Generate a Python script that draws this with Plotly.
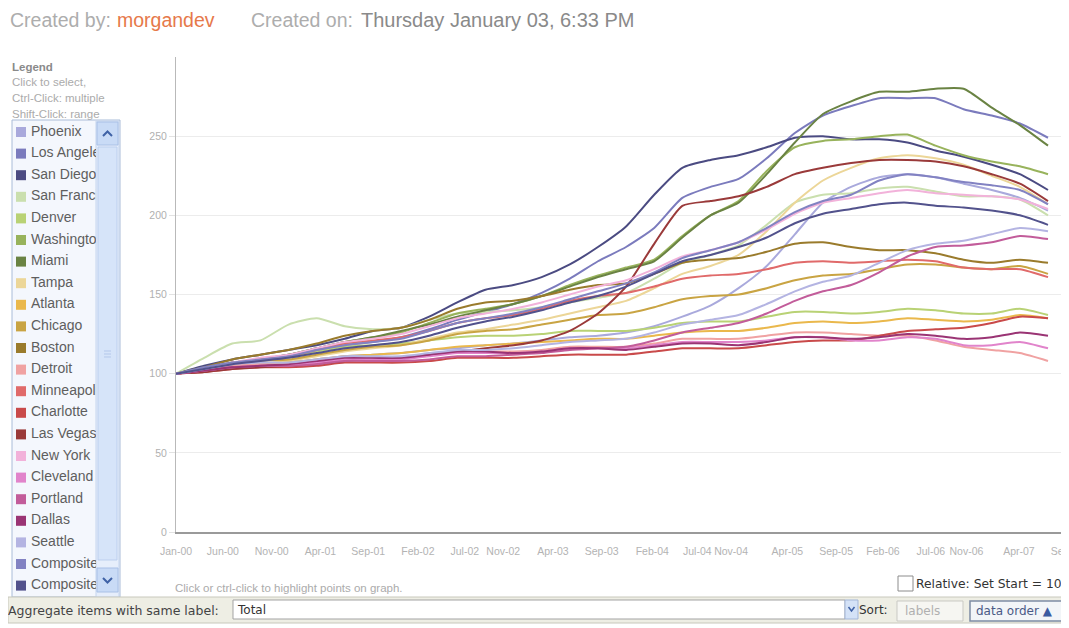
import plotly.graph_objects as go

W, H = 1069, 628

# ---------------- data (Case-Shiller style index, Jan-00 = 100), quarterly ----------------
periods = ["Jan-00", "Apr-00", "Jul-00", "Oct-00", "Jan-01", "Apr-01", "Jul-01", "Oct-01",
           "Jan-02", "Apr-02", "Jul-02", "Oct-02", "Jan-03", "Apr-03", "Jul-03", "Oct-03",
           "Jan-04", "Apr-04", "Jul-04", "Oct-04", "Jan-05", "Apr-05", "Jul-05", "Oct-05",
           "Jan-06", "Apr-06", "Jul-06", "Oct-06", "Jan-07", "Apr-07", "Jul-07", "Oct-07"]

phoenix = [100, 102, 104, 106, 107, 109, 111, 112, 113, 115, 116, 118, 119, 121, 123, 124,
           126, 130, 136, 143, 154, 168, 188, 208, 218, 224, 226, 224, 220, 216, 211, 203]
los_angeles = [100, 103, 106, 109, 112, 115, 118, 120, 123, 128, 134, 139, 144, 151, 160, 171,
               180, 192, 211, 218, 223, 236, 252, 263, 269, 274, 274, 274, 267, 263, 258, 249]
san_diego = [100, 105, 109, 112, 115, 118, 122, 127, 129, 136, 145, 153, 156, 161, 169, 180,
             193, 213, 230, 235, 238, 243, 249, 250, 248, 248, 246, 241, 237, 232, 226, 216]
san_francisco = [100, 110, 119, 121, 131, 135, 130, 128, 129, 134, 138, 139, 140, 142, 145, 148,
                 151, 160, 170, 175, 181, 194, 208, 213, 214, 217, 218, 215, 212, 212, 210, 200]
denver = [100, 103, 107, 109, 111, 114, 117, 118, 119, 121, 123, 124, 124, 125, 127, 127,
          127, 129, 132, 133, 133, 136, 139, 139, 138, 139, 141, 140, 138, 138, 141, 137]
washington = [100, 103, 107, 109, 112, 116, 120, 123, 126, 132, 138, 141, 144, 149, 156, 162,
              167, 172, 187, 200, 209, 228, 243, 247, 248, 250, 251, 244, 238, 234, 231, 226]
miami = [100, 103, 106, 109, 112, 116, 120, 123, 127, 131, 136, 140, 144, 149, 155, 161,
         166, 171, 186, 200, 208, 226, 246, 264, 272, 278, 278, 280, 280, 268, 257, 244]
tampa = [100, 102, 104, 106, 108, 111, 114, 116, 118, 122, 126, 128, 131, 134, 138, 142,
         146, 154, 163, 168, 175, 190, 208, 222, 230, 236, 238, 236, 232, 225, 218, 207]
atlanta = [100, 102, 104, 106, 107, 109, 111, 112, 113, 115, 117, 118, 119, 120, 121, 122,
           122, 124, 126, 127, 127, 129, 132, 133, 132, 133, 135, 134, 133, 134, 137, 135]
chicago = [100, 103, 106, 108, 109, 112, 115, 117, 118, 121, 125, 127, 128, 131, 134, 137,
           138, 142, 147, 149, 150, 154, 159, 162, 163, 166, 169, 169, 167, 166, 168, 163]
boston = [100, 104, 109, 112, 115, 119, 124, 127, 129, 134, 141, 145, 146, 149, 153, 156,
          157, 163, 170, 172, 173, 177, 182, 183, 180, 178, 178, 176, 172, 170, 172, 170]
detroit = [100, 102, 105, 106, 106, 108, 110, 110, 110, 112, 114, 114, 114, 115, 117, 117,
           117, 119, 122, 122, 122, 124, 126, 126, 125, 124, 124, 121, 117, 115, 113, 108]
minneapolis = [100, 103, 107, 109, 111, 115, 119, 121, 123, 127, 132, 135, 137, 141, 146, 149,
               151, 155, 160, 162, 163, 166, 170, 171, 170, 171, 172, 171, 167, 166, 166, 161]
charlotte = [100, 101, 103, 104, 104, 105, 107, 107, 107, 108, 110, 110, 110, 111, 112, 112,
             112, 114, 116, 116, 116, 118, 120, 121, 121, 124, 127, 128, 129, 132, 136, 135]
las_vegas = [100, 101, 103, 104, 105, 106, 108, 109, 110, 112, 114, 116, 118, 121, 127, 138,
             155, 182, 206, 209, 212, 218, 226, 230, 233, 235, 235, 234, 231, 226, 220, 209]
new_york = [100, 103, 107, 110, 112, 116, 120, 122, 125, 130, 135, 138, 141, 145, 150, 155,
            159, 166, 174, 178, 183, 191, 201, 208, 211, 214, 216, 214, 213, 212, 210, 204]
cleveland = [100, 102, 104, 105, 105, 107, 109, 109, 109, 111, 113, 113, 113, 114, 116, 116,
             116, 118, 120, 120, 120, 121, 123, 123, 121, 121, 123, 122, 118, 118, 120, 116]
portland = [100, 102, 104, 105, 105, 106, 108, 108, 108, 109, 111, 111, 112, 113, 115, 116,
            117, 121, 126, 129, 132, 138, 146, 152, 156, 164, 174, 180, 181, 183, 187, 185]
dallas = [100, 102, 104, 105, 106, 108, 110, 110, 110, 112, 114, 114, 113, 114, 116, 116,
          115, 117, 119, 119, 118, 120, 123, 123, 122, 123, 125, 124, 122, 123, 126, 124]
seattle = [100, 103, 106, 107, 107, 109, 111, 111, 111, 113, 115, 115, 116, 118, 120, 121,
           122, 126, 131, 134, 137, 144, 152, 158, 162, 170, 178, 182, 184, 188, 192, 190]
composite_10 = [100, 104, 107, 109, 111, 115, 118, 120, 122, 127, 132, 135, 138, 142, 147, 152,
                157, 164, 173, 178, 183, 192, 202, 209, 213, 222, 226, 224, 221, 219, 216, 207]
composite_20 = [100, 103, 106, 108, 110, 113, 116, 118, 120, 124, 129, 133, 136, 140, 145, 149,
                155, 163, 171, 175, 180, 186, 195, 201, 204, 207, 208, 206, 205, 203, 200, 194]

series_names = ["Phoenix", "Los Angeles", "San Diego", "San Francisco", "Denver", "Washington",
                "Miami", "Tampa", "Atlanta", "Chicago", "Boston", "Detroit", "Minneapolis",
                "Charlotte", "Las Vegas", "New York", "Cleveland", "Portland", "Dallas",
                "Seattle", "Composite-10", "Composite-20"]
series_values = [phoenix, los_angeles, san_diego, san_francisco, denver, washington, miami,
                 tampa, atlanta, chicago, boston, detroit, minneapolis, charlotte, las_vegas,
                 new_york, cleveland, portland, dallas, seattle, composite_10, composite_20]

tick_labels = ["Jan-00", "Jun-00", "Nov-00", "Apr-01", "Sep-01", "Feb-02", "Jul-02", "Nov-02",
               "Apr-03", "Sep-03", "Feb-04", "Jul-04", "Nov-04", "Apr-05", "Sep-05", "Feb-06",
               "Jul-06", "Nov-06", "Apr-07", "Sep-07"]
y_ticks = [0, 50, 100, 150, 200, 250]

# ---------------- styles / layout constants ----------------
colors = ["#a9a9dc", "#7b7bbd", "#4b4b82", "#cadfae", "#b9d275", "#98b35c", "#6a8343",
          "#ecd698", "#eab84c", "#c9a443", "#9a7b2c", "#f0a2a2", "#e06a6a", "#c94a4a",
          "#9a3a3a", "#f2b2da", "#e184cb", "#c25c9a", "#9a3474", "#b4b4e2", "#8282c2",
          "#52528c"]
tick_pos = [0, 5, 10.2, 15.4, 20.5, 25.8, 30.8, 34.9, 40.2, 45.4, 50.8, 55.6, 59.2, 65.2,
            70.4, 75.4, 80.5, 84.3, 89.9, 95.1]

MON = ["Jan", "Feb", "Mar", "Apr", "May", "Jun", "Jul", "Aug", "Sep", "Oct", "Nov", "Dec"]
x_idx = [MON.index(p[:3]) + 12 * int(p[4:]) for p in periods]

FONT = "Liberation Sans, Arial, sans-serif"
UIFONT = "DejaVu Sans, Verdana, sans-serif"

# the page puts the figure 8px in from the top-left corner; coordinates below are
# given in window pixels and converted to figure-paper fractions here
OFF = 8


def fx(px):
    return (px - OFF) / W


def fy(py):
    return 1 - (py - OFF) / H


PX_PER_IDX = (1048 - 176) / 93.0
X_MAX = (W + OFF - 176) / PX_PER_IDX

fig = go.Figure()

for name, vals, col in zip(series_names, series_values, colors):
    fig.add_trace(go.Scatter(
        x=x_idx, y=vals, mode="lines", name=name, showlegend=False,
        line=dict(color=col, width=2, shape="spline", smoothing=0.6),
        hoverinfo="name+y", xaxis="x", yaxis="y"))

# legend list drawn as a clipped subplot (x2/y2 are pixel offsets inside the list box)
LEG_TOP, LEG_BOT = 120, 597
row_h = 21.6
leg_y = [12 + i * row_h for i in range(len(series_names))]
fig.add_trace(go.Scatter(
    x=[9] * len(series_names), y=leg_y, mode="markers", showlegend=False, hoverinfo="skip",
    marker=dict(symbol="square", size=10, color=colors, line=dict(width=0)),
    xaxis="x2", yaxis="y2", cliponaxis=True))
fig.add_trace(go.Scatter(
    x=[19] * len(series_names), y=leg_y, mode="text", text=series_names,
    textposition="middle right", showlegend=False, hoverinfo="skip",
    textfont=dict(family=FONT, size=14, color="#5e5e5e"),
    xaxis="x2", yaxis="y2", cliponaxis=True))

shapes = []


def rect(x0, y0, x1, y1, fill, line="rgba(0,0,0,0)", lw=1, layer="below"):
    shapes.append(dict(type="rect", xref="paper", yref="paper", x0=fx(x0), x1=fx(x1),
                       y0=fy(y1), y1=fy(y0), fillcolor=fill,
                       line=dict(color=line, width=lw), layer=layer))


def path(points, color, lw=2, layer="above"):
    d = "M " + " L ".join(f"{fx(a):.5f},{fy(b):.5f}" for a, b in points)
    shapes.append(dict(type="path", xref="paper", yref="paper", path=d,
                       line=dict(color=color, width=lw), layer=layer))


# legend box and scrollbar
rect(12, LEG_TOP, 120, LEG_BOT, "#f4f7fd", "#a9bcd8")
rect(96, LEG_TOP + 1, 119, LEG_BOT, "#e6eefb", "#c4d4ee")
rect(97, 122, 118, 145, "#c9dbf6", "#a9c0e6")
rect(98, 147, 117, 560, "#d6e4f9", "#bccfee")
rect(97, 568, 118, 592, "#c9dbf6", "#a9c0e6")
path([(103, 136), (107.5, 131.5), (112, 136)], "#3f62a6", 2)
path([(103, 578), (107.5, 582.5), (112, 578)], "#3f62a6", 2)
for gy in (351, 354, 357):
    path([(104, gy), (111, gy)], "#b3c7ea", 1)

# bottom toolbar
rect(OFF, 597, W + OFF, 623, "#eeeee4", "#c8c8bc", 1, "above")
rect(233, 600, 845, 619, "#ffffff", "#a3a3a3", 1, "above")
rect(845, 600, 858, 619, "#d4e2f7", "#a3b6d8", 1, "above")
path([(848.5, 607), (851.5, 611), (854.5, 607)], "#3f62a6", 1.5)
rect(897, 601, 963, 621, "#f6f6f2", "#c9c9c4", 1, "above")
rect(970, 601, 1065, 621, "#f2f5f8", "#7d8ca4", 1.5, "above")
# checkbox
rect(898, 576, 913, 591, "#ffffff", "#8c8c8c", 1, "above")

annotations = []


def text(x, y, s, size, color, family=FONT, bold=False):
    # x is where the first glyph should start (annotation boxes add ~3px padding)
    if bold:
        s = "<b>" + s + "</b>"
    annotations.append(dict(x=fx(x - 3), y=fy(y), xref="paper", yref="paper", text=s,
                            showarrow=False, xanchor="left", yanchor="middle",
                            font=dict(family=family, size=size, color=color)))


text(11, 20, "Created by:", 19.5, "#adadad")
text(118, 20, "morgandev", 19.5, "#e6794a")
text(252, 20, "Created on:", 19.5, "#adadad")
text(362, 20, "Thursday January 03, 6:33 PM", 20, "#8a8a8a")

text(13, 67, "Legend", 11.5, "#8a8a8a", bold=True)
text(13, 82, "Click to select,", 11.5, "#ababab")
text(13, 98, "Ctrl-Click: multiple", 11.5, "#ababab")
text(13, 114, "Shift-Click: range", 11.5, "#ababab")

text(176, 588, "Click or ctrl-click to highlight points on graph.", 11.5, "#ababab")
text(917, 584, "Relative: Set Start = 100", 12.3, "#333333", UIFONT)
text(9, 610, "Aggregate items with same label:", 12.5, "#444444", UIFONT)
text(238, 610, "Total", 12, "#333333", UIFONT)
text(860, 610, "Sort:", 12, "#333333", UIFONT)
text(906, 611, "labels", 12, "#b0b0b0", UIFONT)
text(977, 611, "data order <span style='color:#3a5aa0'>▲</span>", 12, "#4a5a86", UIFONT)

fig.update_layout(
    width=W, height=H,
    margin=dict(l=0, r=0, t=0, b=0, autoexpand=False),
    paper_bgcolor="white", plot_bgcolor="white",
    showlegend=False,
    hovermode="closest",
    shapes=shapes,
    annotations=annotations,
    xaxis=dict(domain=[fx(176), 1], range=[0, X_MAX], tickvals=tick_pos, ticktext=tick_labels,
               tickangle=0, showgrid=False, zeroline=False, showline=True, automargin=False,
               ticklabeloverflow="allow",
               linecolor="#9a9a9a", linewidth=2, ticks="outside", ticklen=8,
               tickcolor="rgba(0,0,0,0)",
               tickfont=dict(family=FONT, size=10.5, color="#b3b3b3"), fixedrange=True),
    yaxis=dict(domain=[fy(532), fy(57)], range=[0, 300], tickvals=y_ticks, automargin=False,
               showgrid=True, gridcolor="#ececec", gridwidth=1, zeroline=False,
               showline=True, linecolor="#b9b9b9", linewidth=1, ticks="outside",
               ticklen=6, tickcolor="#e2e2e2",
               tickfont=dict(family=FONT, size=10.5, color="#b0b0b0"), fixedrange=True),
    xaxis2=dict(domain=[fx(12), fx(96)], range=[0, 84], visible=False, fixedrange=True,
                automargin=False),
    yaxis2=dict(domain=[fy(LEG_BOT), fy(LEG_TOP)], range=[LEG_BOT - LEG_TOP, 0],
                visible=False, fixedrange=True, automargin=False),
)

fig.write_html("out.html")
